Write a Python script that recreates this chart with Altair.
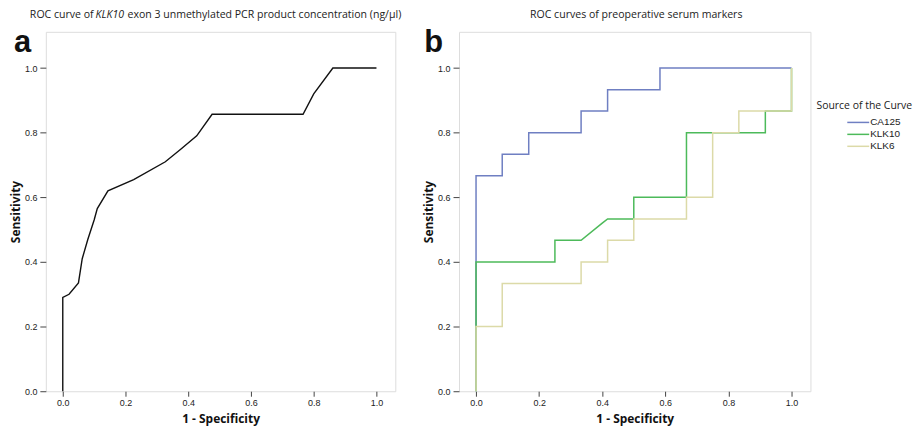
import altair as alt
import pandas as pd

# Panel a: KLK10 exon 3 ROC curve
a_fpr = [0.0, 0.0, 0.02, 0.05, 0.062, 0.08, 0.10, 0.11, 0.144, 0.226, 0.327, 0.375, 0.427, 0.476, 0.766, 0.80, 0.861, 1.0]
a_tpr = [0.0, 0.29, 0.30, 0.335, 0.41, 0.47, 0.53, 0.565, 0.62, 0.655, 0.71, 0.748, 0.79, 0.857, 0.857, 0.92, 1.0, 1.0]

# Panel b: serum markers
ca125_fpr = [0.0, 0.0, 0.083, 0.083, 0.167, 0.167, 0.333, 0.333, 0.417, 0.417, 0.583, 0.583, 1.0]
ca125_tpr = [0.0, 0.667, 0.667, 0.733, 0.733, 0.8, 0.8, 0.867, 0.867, 0.933, 0.933, 1.0, 1.0]
klk10_fpr = [0.0, 0.0, 0.25, 0.25, 0.333, 0.40, 0.417, 0.5, 0.5, 0.667, 0.667, 0.917, 0.917, 1.0, 1.0]
klk10_tpr = [0.0, 0.4, 0.4, 0.467, 0.467, 0.52, 0.533, 0.533, 0.6, 0.6, 0.8, 0.8, 0.867, 0.867, 1.0]
klk6_fpr = [0.0, 0.0, 0.083, 0.083, 0.333, 0.333, 0.417, 0.417, 0.5, 0.5, 0.667, 0.667, 0.75, 0.75, 0.833, 0.833, 1.0, 1.0]
klk6_tpr = [0.0, 0.2, 0.2, 0.333, 0.333, 0.4, 0.4, 0.467, 0.467, 0.533, 0.533, 0.6, 0.6, 0.8, 0.8, 0.867, 0.867, 1.0]

series_names = ["CA125", "KLK10", "KLK6"]
series_colors = ["#6f7fc2", "#4dba5a", "#dcdaa8"]
ticks = [0.0, 0.2, 0.4, 0.6, 0.8, 1.0]

title_a_parts = ["ROC curve of", "KLK10", "exon 3 unmethylated PCR product concentration (ng/µl)"]
title_b = "ROC curves of preoperative serum markers"
legend_title = "Source of the Curve"

df_a = pd.DataFrame({"fpr": a_fpr, "tpr": a_tpr, "i": range(len(a_fpr))})
rows = []
for name, xs, ys in [("CA125", ca125_fpr, ca125_tpr), ("KLK10", klk10_fpr, klk10_tpr), ("KLK6", klk6_fpr, klk6_tpr)]:
    for i, (x, y) in enumerate(zip(xs, ys)):
        rows.append({"series": name, "fpr": x, "tpr": y, "i": i})
df_b = pd.DataFrame(rows)
df_leg = pd.DataFrame({"series": series_names, "row": list(range(len(series_names)))})

W, H = 351, 361
XDOM = [-0.054, 1.06]
YDOM = [0.0, 1.112]

def xax():
    return alt.Axis(values=ticks, format=".1f", title="1 - Specificity", grid=False, domain=False,
                    tickSize=5, tickColor="#444", labelFontSize=9, labelColor="#222",
                    labelFont="Liberation Sans", titleFont="Open Sans", titleFontSize=12,
                    titleFontWeight="bold", titleColor="#111", labelPadding=2, titlePadding=6)

def yax():
    return alt.Axis(values=ticks, format=".1f", title="Sensitivity", grid=False, domain=False,
                    tickSize=6, tickColor="#444", labelFontSize=9, labelColor="#222",
                    labelFont="Liberation Sans", titleFont="Open Sans", titleFontSize=12,
                    titleFontWeight="bold", titleColor="#111", labelPadding=3, titlePadding=2)

color_scale = alt.Scale(domain=series_names, range=series_colors)

line_a = alt.Chart(df_a).mark_line(color="#111", strokeWidth=1.4).encode(
    x=alt.X("fpr:Q", scale=alt.Scale(domain=XDOM, nice=False, zero=False), axis=xax()),
    y=alt.Y("tpr:Q", scale=alt.Scale(domain=YDOM, nice=False), axis=yax()),
    order="i:Q",
)

def txt(s, x, y, **kw):
    return alt.Chart(pd.DataFrame({"t": [s]})).mark_text(clip=False, **kw).encode(
        text="t:N", x=alt.value(x), y=alt.value(y))

ttl_kw = dict(font="Open Sans", fontSize=10.6, baseline="middle", color="#222")
TY = -17
a_t1 = txt(title_a_parts[0], 48, TY, align="right", **ttl_kw)
a_t2 = txt(title_a_parts[1], 50, TY, align="left", fontStyle="italic", **ttl_kw)
a_t3 = txt(title_a_parts[2], 82, TY, align="left", **ttl_kw)
a_letter = txt("a", -32, 20, align="left", baseline="alphabetic", font="Liberation Sans",
               fontSize=31, fontWeight="bold", color="#111")

panel_a = alt.layer(line_a, a_t1, a_t2, a_t3, a_letter).properties(width=W, height=H)

line_b = alt.Chart(df_b).mark_line(strokeWidth=1.5).encode(
    x=alt.X("fpr:Q", scale=alt.Scale(domain=XDOM, nice=False, zero=False), axis=xax()),
    y=alt.Y("tpr:Q", scale=alt.Scale(domain=YDOM, nice=False), axis=yax()),
    color=alt.Color("series:N", scale=color_scale, legend=None),
    order="i:Q",
)
leg_y = alt.Y("row:Q", scale=alt.Scale(domain=[0, 2], range=[91, 115], nice=False, zero=False), axis=None)
leg_sym = alt.Chart(df_leg).mark_rule(strokeWidth=1.5, clip=False).encode(
    x=alt.value(390), x2=alt.value(412), y=leg_y,
    color=alt.Color("series:N", scale=color_scale, legend=None),
)
leg_lab = alt.Chart(df_leg).mark_text(align="left", baseline="middle", font="Liberation Sans",
                                      fontSize=10, color="#222", clip=False).encode(
    x=alt.value(413), y=leg_y, text="series:N",
)
leg_title = txt(legend_title, 359, 75, align="left", font="Open Sans", fontSize=10.5,
                baseline="middle", color="#222")
b_t = txt(title_b, 178, TY, align="center", **ttl_kw)
b_letter = txt("b", -35, 20, align="left", baseline="alphabetic", font="Liberation Sans",
               fontSize=31, fontWeight="bold", color="#111")
panel_b = alt.layer(line_b, b_t, b_letter, leg_sym, leg_lab, leg_title).resolve_scale(
    y="independent").properties(width=353, height=H)

chart = alt.hconcat(panel_a, panel_b, spacing=19).properties(
    padding={"left": 0, "top": 0, "right": 0, "bottom": 0}
).configure_view(fill="#f0f0f0", stroke="#555", strokeWidth=1.5).configure(background="white")

chart.save("out.html", embed_options={"renderer": "svg", "actions": False})
